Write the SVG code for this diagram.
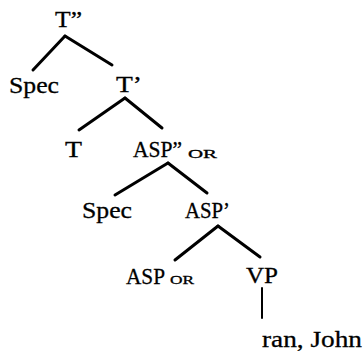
<svg xmlns="http://www.w3.org/2000/svg" width="363" height="351" viewBox="0 0 363 351">
<style>
.t{font-family:"Liberation Serif","Times New Roman",serif;font-size:24px;fill:#000;stroke:#000;stroke-width:0.3}
.s{font-family:"Liberation Serif","Times New Roman",serif;font-size:12px;fill:#000;stroke:#000;stroke-width:0.3}
.e{stroke:#000;stroke-width:3;stroke-linecap:round;fill:none}
</style>
<rect width="363" height="351" fill="#fff"/>
<g id="connectors">
<line class="e" x1="65" y1="36" x2="33" y2="70"/>
<line class="e" x1="65" y1="36" x2="112" y2="65"/>
<line class="e" x1="125" y1="98" x2="79" y2="130"/>
<line class="e" x1="125" y1="98" x2="162" y2="128"/>
<line class="e" x1="168" y1="163" x2="115" y2="195"/>
<line class="e" x1="168" y1="163" x2="207" y2="193"/>
<line class="e" x1="218" y1="226" x2="175" y2="260"/>
<line class="e" x1="218" y1="226" x2="260" y2="257"/>
<line class="e" x1="262" y1="288" x2="262" y2="318" style="stroke-width:2"/>
</g>
<g id="n-T2"><text class="t" x="55" y="27" textLength="27" lengthAdjust="spacingAndGlyphs">T”</text></g>
<g id="n-Spec1"><text class="t" x="9" y="93" textLength="50" lengthAdjust="spacingAndGlyphs">Spec</text></g>
<g id="n-T1"><text class="t" x="116" y="92" textLength="26" lengthAdjust="spacingAndGlyphs">T’</text></g>
<g id="n-T"><text class="t" x="65" y="157" textLength="17" lengthAdjust="spacingAndGlyphs">T</text></g>
<g id="n-ASP2"><text class="t" x="133" y="157" textLength="49" lengthAdjust="spacingAndGlyphs">ASP”</text><text class="s" x="188" y="158" textLength="29" lengthAdjust="spacingAndGlyphs">OR</text></g>
<g id="n-Spec2"><text class="t" x="82" y="218" textLength="50" lengthAdjust="spacingAndGlyphs">Spec</text></g>
<g id="n-ASP1"><text class="t" x="185" y="218" textLength="45" lengthAdjust="spacingAndGlyphs">ASP’</text></g>
<g id="n-ASP"><text class="t" x="126" y="284" textLength="39" lengthAdjust="spacingAndGlyphs">ASP</text><text class="s" x="170" y="284" textLength="24" lengthAdjust="spacingAndGlyphs">OR</text></g>
<g id="n-VP"><text class="t" x="246" y="283" textLength="32" lengthAdjust="spacingAndGlyphs">VP</text></g>
<g id="n-ran"><text class="t" x="262" y="347" textLength="100" lengthAdjust="spacingAndGlyphs">ran, John</text></g>
</svg>
